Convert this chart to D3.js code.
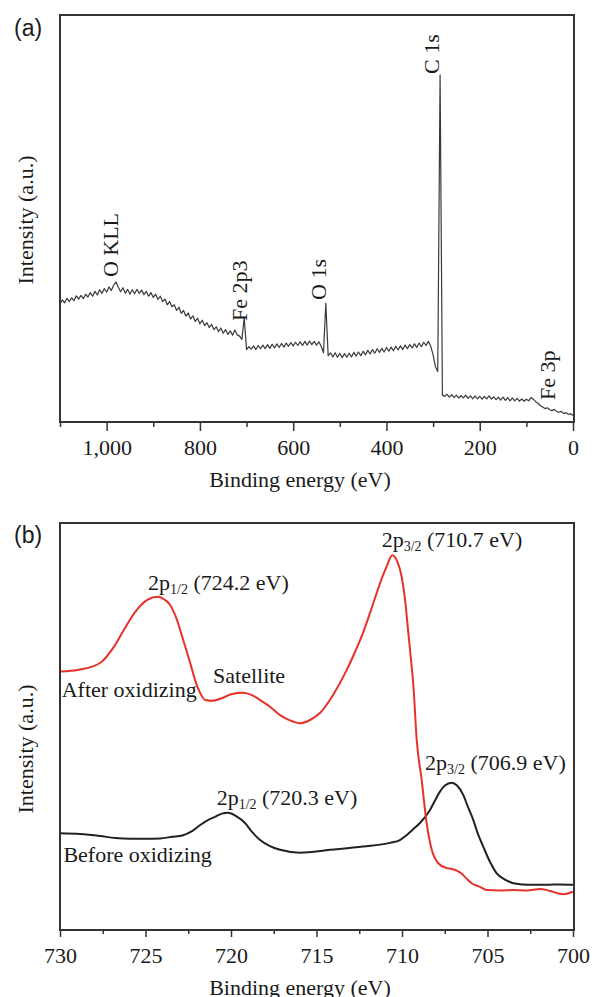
<!DOCTYPE html>
<meta charset="utf-8">
<script src="https://cdnjs.cloudflare.com/ajax/libs/d3/7.8.5/d3.min.js"></script>
<style>
    html, body { margin: 0; padding: 0; background: white; }
    svg text { font-family: "Liberation Serif", "Times New Roman", serif; fill: #1a1a1a; }
    .panel-tag { font-family: "Liberation Sans", Arial, sans-serif; }
    .axis line { stroke: #333; stroke-width: 1.5; }
    .frame { fill: none; stroke: #333; stroke-width: 2; }
</style>
<body></body>
<script>

// ---------- DATA ----------

// (a) survey spectrum, sampled every 5 eV from 1100 eV down to 0 eV
const surveyStart = 1100;
const surveyStep = 5;
const surveyIntensity = [
    29.1, 30.0, 29.3, 30.4, 29.6, 30.5, 29.8, 31.0, 30.2, 31.1,   // 1100-1055
    30.3, 31.4, 30.7, 31.8, 30.9, 32.1, 31.2, 32.5, 31.6, 32.8,   // 1050-1005
    31.9, 33.2, 32.3, 33.6, 34.4, 33.1, 32.0, 33.0, 31.6, 32.6,   // 1000-955
    31.4, 32.5, 31.5, 32.6, 31.6, 32.4, 31.3, 32.1, 30.9, 31.8,   // 950-905
    30.6, 31.4, 30.1, 30.9, 29.6, 30.2, 28.8, 29.6, 28.3, 28.8,   // 900-855
    27.4, 28.2, 26.7, 27.4, 26.0, 26.8, 25.3, 26.1, 24.7, 25.5,   // 850-805
    24.1, 25.0, 23.7, 24.4, 23.2, 24.0, 22.7, 23.4, 22.2, 23.1,   // 800-755
    21.8, 22.7, 21.5, 22.4, 21.3, 22.6, 21.4, 21.1, 20.3, 25.6,   // 750-705
    17.8, 18.5, 17.9, 18.7, 17.8, 18.8, 18.0, 18.9, 18.0, 19.0,   // 700-655
    18.1, 19.1, 18.2, 19.2, 18.3, 19.3, 18.4, 19.4, 18.6, 19.5,   // 650-605
    18.7, 19.6, 18.8, 19.7, 18.8, 19.8, 18.9, 19.9, 19.0, 19.8,   // 600-555
    18.9, 19.7, 18.6, 17.0, 29.2, 16.3, 17.0, 16.0, 17.0, 15.9,   // 550-505
    16.9, 15.8, 16.8, 15.9, 16.9, 16.0, 17.1, 16.2, 17.2, 16.3,   // 500-455
    17.4, 16.5, 17.6, 16.7, 17.8, 16.9, 18.0, 17.1, 18.1, 17.2,   // 450-405
    18.3, 17.4, 18.4, 17.5, 18.6, 17.7, 18.7, 17.8, 18.9, 18.0,   // 400-355
    19.0, 18.2, 19.2, 18.3, 19.4, 18.5, 19.6, 18.8, 19.8, 18.6,   // 350-305
    16.5, 13.6, 12.4, 85.3, 6.6, 6.3, 6.8, 6.1, 6.7, 6.0,         // 300-255
    6.6, 5.9, 6.5, 5.9, 6.6, 5.8, 6.4, 5.7, 6.4, 5.7,             // 250-205
    6.3, 5.6, 6.3, 5.7, 6.4, 5.6, 6.2, 5.5, 6.1, 5.4,             // 200-155
    6.1, 5.3, 6.0, 5.2, 5.9, 5.2, 5.8, 5.1, 5.7, 5.1,             // 150-105
    5.6, 5.2, 6.0, 5.6, 5.0, 4.6, 4.0, 3.7, 3.3, 3.5,             // 100-55
    3.0, 2.8, 3.1, 2.6, 2.4, 2.6, 2.1, 2.3, 1.9, 2.0,             // 50-5
    1.6                                                           // 0
];

// (a) peak labels: text, energy (eV), intensity where the label starts
const surveyLabels = ["O KLL", "Fe 2p3", "O 1s", "C 1s", "Fe 3p"];
const surveyLabelEnergy = [975, 700, 529.5, 287, 38.6];
const surveyLabelLevel = [35.6, 24.8, 30.0, 85.5, 5.4];

const surveyMajorTicks = [1000, 800, 600, 400, 200, 0];
const surveyMinorTicks = [1100, 900, 700, 500, 300, 100];

// (b) Fe 2p high resolution spectra
const afterEnergy = [730, 728.83, 727.66, 726.78, 726.2, 725.61, 724.9, 724.27, 723.86, 723.57,
    723.16, 722.8, 722.4, 722.1, 721.8, 721.5, 721.1, 720.5, 719.94, 719.3,
    718.77, 718.3, 717.7, 717.13, 716.55, 715.96, 715.38, 714.8, 714.04, 713.23,
    712.75, 712.28, 711.87, 711.48, 711.17, 710.9, 710.57, 710.29, 710.02, 709.82,
    709.63, 709.47, 709.33, 709.14, 708.85, 708.56, 708.26, 707.88, 707.39, 707.08,
    706.8, 706.5, 706.26, 705.93, 705.44, 705.05, 704.27, 703.5, 702.7, 701.93,
    701.35, 700.58, 700];
const afterIntensity = [63.5, 64.0, 65.6, 70.0, 74.2, 78.1, 81.1, 81.9, 81.1, 79.9,
    76.2, 71.3, 65.8, 61.4, 58.2, 56.5, 56.3, 57.0, 58.0, 58.3,
    57.7, 56.5, 54.8, 52.8, 51.5, 50.8, 51.6, 53.3, 57.7, 63.9,
    68.3, 73.0, 77.9, 82.8, 86.5, 89.3, 92.1, 90.7, 86.8, 81.1,
    73.0, 66.3, 59.8, 46.7, 36.9, 26.3, 19.7, 16.4, 15.2, 15.0,
    14.6, 13.8, 12.8, 11.5, 10.6, 9.8, 9.7, 9.8, 9.7, 10.1,
    9.6, 8.8, 9.4];

const beforeEnergy = [730, 728.83, 727.66, 726.78, 725.9, 725.0, 724.15, 723.45, 722.8, 722.28,
    721.8, 721.35, 720.94, 720.53, 720.18, 719.7, 719.18, 718.77, 718.3, 717.72,
    717.13, 715.96, 714.2, 712.28, 710.7, 710.12, 709.73, 709.36, 708.95, 708.36,
    708.07, 707.78, 707.49, 707.09, 706.78, 706.42, 706.14, 705.83, 705.56, 705.25,
    704.85, 704.46, 703.98, 703.49, 702.51, 701.54, 700.76, 700];
const beforeIntensity = [23.8, 23.6, 23.1, 22.6, 22.4, 22.4, 22.5, 22.9, 23.3, 24.3,
    25.8, 27.0, 27.8, 28.6, 28.8, 28.0, 26.3, 24.1, 22.1, 20.6,
    19.7, 19.0, 19.7, 20.5, 21.4, 22.1, 23.3, 24.7, 26.3, 29.5,
    31.8, 34.0, 35.5, 36.2, 35.5, 33.2, 30.2, 27.0, 23.6, 20.5,
    16.7, 13.9, 12.4, 11.5, 11.1, 11.1, 11.2, 11.1];

// (b) labels: main text, subscript, rest, energy, intensity of baseline
const fe2pLabelMain = ["2p", "2p", "Satellite", "After oxidizing", "2p", "2p", "Before oxidizing"];
const fe2pLabelSub = ["1/2", "3/2", "", "", "1/2", "3/2", ""];
const fe2pLabelRest = [" (724.2 eV)", " (710.7 eV)", "", "", " (720.3 eV)", " (706.9 eV)", ""];
const fe2pLabelEnergy = [724.85, 711.19, 721.05, 729.9, 720.84, 708.65, 729.8];
const fe2pLabelLevel = [83.5, 94.2, 60.7, 57.3, 30.7, 39.3, 16.8];

const fe2pMajorTicks = [730, 725, 720, 715, 710, 705, 700];
const fe2pMinorTicks = [727.5, 722.5, 717.5, 712.5, 707.5, 702.5];

// ---------- LAYOUT ----------
const width = 595, height = 997;
const left = 60, right = 573;
const aTop = 15, aBottom = 422;
const bTop = 523, bBottom = 930;
const serif = '"Liberation Serif", "Times New Roman", serif';

const svg = d3.select("body").append("svg")
    .attr("width", width)
    .attr("height", height);

function drawAxis(scale, y, major, minor, majorLen, minorLen, fmt) {
    svg.append("g")
        .attr("class", "axis")
        .attr("transform", `translate(0,${y})`)
        .call(d3.axisBottom(scale).tickValues(minor).tickSize(minorLen).tickFormat(""))
        .call(g => g.select(".domain").remove());
    const g = svg.append("g")
        .attr("class", "axis")
        .attr("transform", `translate(0,${y})`)
        .call(d3.axisBottom(scale).tickValues(major).tickSize(majorLen)
            .tickPadding(17.4 - majorLen).tickFormat(fmt))
        .call(g => g.select(".domain").remove());
    g.attr("font-family", serif).attr("font-size", 22);
    g.selectAll("text")
        .attr("fill", "#1a1a1a")
        .style("font-family", serif)
        .style("font-size", "22px");
}

function yTitle(cy) {
    svg.append("text")
        .attr("transform", `translate(33,${cy}) rotate(-90)`)
        .attr("text-anchor", "middle")
        .style("font-size", "22px")
        .text("Intensity (a.u.)");
}

// ---------- PANEL (a) ----------
const xA = d3.scaleLinear().domain([1100, 0]).range([left, right]);
const yA = d3.scaleLinear().domain([0, 100]).range([aBottom, aTop]);

const survey = surveyIntensity.map((v, i) => [surveyStart - i * surveyStep, v]);

svg.append("path")
    .datum(survey)
    .attr("fill", "none")
    .attr("stroke", "#3a3a3a")
    .attr("stroke-width", 1.2)
    .attr("stroke-linejoin", "round")
    .attr("d", d3.line().x(d => xA(d[0])).y(d => yA(d[1])));

surveyLabels.forEach((t, i) => {
    svg.append("text")
        .attr("transform", `translate(${xA(surveyLabelEnergy[i])},${yA(surveyLabelLevel[i])}) rotate(-90)`)
        .style("font-size", "22px")
        .text(t);
});

drawAxis(xA, aBottom, surveyMajorTicks, surveyMinorTicks, 9, 5, d3.format(","));

svg.append("rect").attr("class", "frame")
    .attr("x", left).attr("y", aTop)
    .attr("width", right - left + 1).attr("height", aBottom - aTop);

yTitle(220);

svg.append("text")
    .attr("x", 300).attr("y", 487)
    .attr("text-anchor", "middle")
    .style("font-size", "22px")
    .text("Binding energy (eV)");

svg.append("text").attr("class", "panel-tag")
    .attr("x", 14).attr("y", 36)
    .style("font-size", "23px")
    .text("(a)");

// ---------- PANEL (b) ----------
const xB = d3.scaleLinear().domain([730, 700]).range([left, right]);
const yB = d3.scaleLinear().domain([0, 100]).range([bBottom, bTop]);

const lineB = d3.line()
    .x(d => xB(d[0]))
    .y(d => yB(d[1]))
    .curve(d3.curveMonotoneX);

svg.append("path")
    .datum(beforeEnergy.map((e, i) => [e, beforeIntensity[i]]))
    .attr("fill", "none")
    .attr("stroke", "#222")
    .attr("stroke-width", 2)
    .attr("d", lineB);

svg.append("path")
    .datum(afterEnergy.map((e, i) => [e, afterIntensity[i]]))
    .attr("fill", "none")
    .attr("stroke", "#e8312a")
    .attr("stroke-width", 2)
    .attr("d", lineB);

fe2pLabelMain.forEach((t, i) => {
    const txt = svg.append("text")
        .attr("x", xB(fe2pLabelEnergy[i]))
        .attr("y", yB(fe2pLabelLevel[i]))
        .style("font-size", "22px");
    txt.append("tspan").text(t);
    if (fe2pLabelSub[i]) {
        txt.append("tspan").attr("dy", 4).style("font-size", "14px").text(fe2pLabelSub[i]);
        txt.append("tspan").attr("dy", -4).text(fe2pLabelRest[i]);
    }
});

drawAxis(xB, bBottom, fe2pMajorTicks, fe2pMinorTicks, 7, 4, d3.format("d"));

svg.append("rect").attr("class", "frame")
    .attr("x", left).attr("y", bTop)
    .attr("width", right - left + 1).attr("height", bBottom - bTop);

yTitle(749);

svg.append("text")
    .attr("x", 300).attr("y", 995)
    .attr("text-anchor", "middle")
    .style("font-size", "22px")
    .text("Binding energy (eV)");

svg.append("text").attr("class", "panel-tag")
    .attr("x", 14).attr("y", 543)
    .style("font-size", "23px")
    .text("(b)");

</script>
